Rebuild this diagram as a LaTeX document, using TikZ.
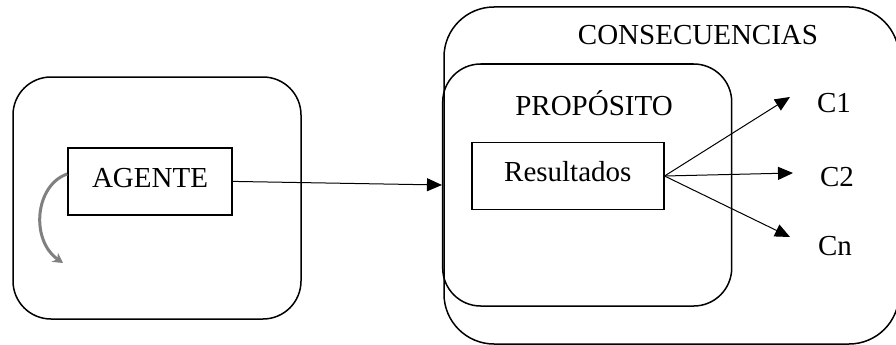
\documentclass[tikz,border=0pt]{standalone}
\usepackage{fontspec}
\setmainfont{Liberation Serif}
\usetikzlibrary{arrows.meta}
\begin{document}
\begin{tikzpicture}[x=1pt,y=-1pt,
  container/.style={draw, line width=1.5pt, inner sep=0pt},
  plainbox/.style={draw, line width=1.5pt, inner sep=0pt},
  lbl/.style={font=\fontsize{29}{34}\selectfont, inner sep=0pt, anchor=base},
  conn/.style={line width=1pt, -{Triangle[length=15pt,width=13pt]}}]
\clip (0,0) rectangle (896,345);
\fill[white] (0,0) rectangle (896,345);
% containers
\node[container, rounded corners=38pt, minimum width=288pt, minimum height=242pt] (left) at (157,198) {};
\node[container, rounded corners=50pt, minimum width=455pt, minimum height=337pt] (cons) at (671.5,175.5) {};
\node[container, rounded corners=38pt, minimum width=289pt, minimum height=242pt] (prop) at (587.2,185) {};
% labels
\node[lbl] (tcons) at (698,45) {CONSECUENCIAS};
\node[lbl] (tprop) at (594,115) {PROPÓSITO};
% inner boxes
\node[plainbox, minimum width=164pt, minimum height=67pt, text depth=8pt, font=\fontsize{29}{34}\selectfont] (agente) at (150,181.4) {AGENTE};
\node[plainbox, minimum width=192pt, minimum height=67pt, text depth=10pt, font=\fontsize{29}{34}\selectfont] (res) at (567.8,176) {Resultados};
% consequences
\node[lbl] (c1) at (834,112) {C1};
\node[lbl] (c2) at (837,186.7) {C2};
\node[lbl] (cn) at (835,255) {Cn};
\coordinate (t1) at (790,97);
\coordinate (t2) at (793,173);
\coordinate (tn) at (790,237);
% connectors
\draw[conn] (agente.east) -- (prop.west);
\draw[conn] (res.east) -- (t1);
\draw[conn] (res.east) -- (t2);
\draw[conn] (res.east) -- (tn);
% gray curved arrow
\draw[line width=3pt, color=black!50, -{Stealth[length=10pt,width=11pt]}]
  (agente.west |- 0,174) .. controls (35,185) and (30,240) .. (63,263);
\end{tikzpicture}
\end{document}
